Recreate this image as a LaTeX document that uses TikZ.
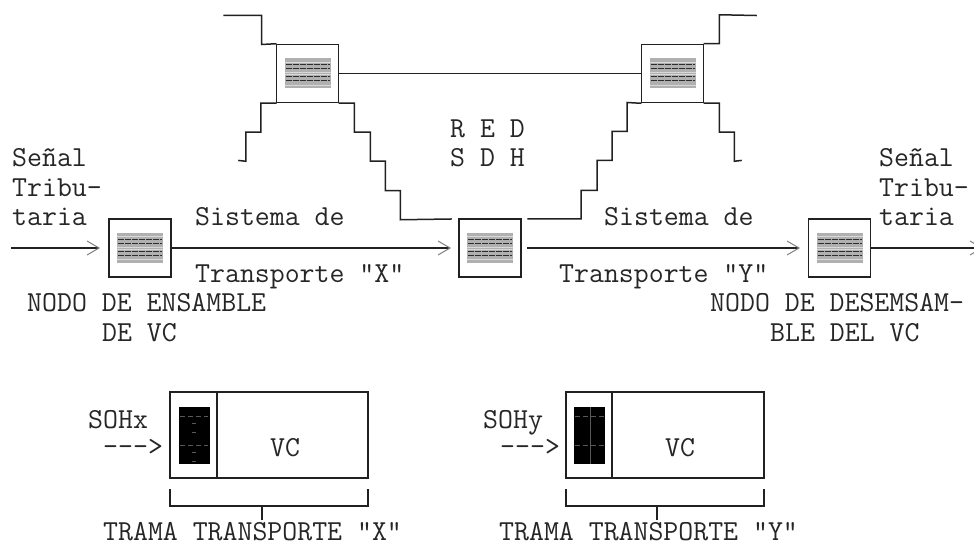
\documentclass[tikz,border=0pt]{standalone}
\usepackage{fontspec}
\usetikzlibrary{arrows.meta,calc}
\definecolor{ink}{gray}{0.13}
\definecolor{textink}{gray}{0.15}
\tikzset{
    line/.style    = {draw=ink, line width=1.5pt, line cap=rect},
    flow/.style    = {line, -{_[sep=14pt]Straight Barb[length=12pt, width=14pt, line width=1pt, color=gray]}},
    block/.style   = {draw=ink, line width=1.5pt, minimum width=62pt, minimum height=58pt, inner sep=0pt},
    tag/.style     = {anchor=base west, inner sep=0pt, text=textink,
                      font=\ttfamily\fontsize{29}{29}\selectfont},
    frame/.style   = {draw=ink, line width=1.5pt, minimum width=198pt, minimum height=86pt, inner sep=0pt},
    payload/.style = {fill=black, minimum width=31pt, minimum height=57pt, inner sep=0pt},
    seam/.style    = {gray!70!black, line width=0.7pt}
}
% one hatched square inside a block
\newcommand{\hatchcell}[1]{
    \fill[gray!62] ($(#1)+(-23,-15)$) rectangle ($(#1)+(23,15)$);
    \foreach \rowy in {-8.5,-4.5,3.5,7.5}
        \draw[gray!35!black, line width=1pt, dash pattern=on 6pt off 1pt]
            ($(#1)+(-22,\rowy)$) -- ($(#1)+(22,\rowy)$);
    \foreach \rowy in {-11.5,-1,1,11.5}
        \draw[gray!30, line width=0.8pt] ($(#1)+(-23,\rowy)$) -- ($(#1)+(23,\rowy)$);
}

\begin{document}
\begin{tikzpicture}[x=1pt, y=-1pt]
\useasboundingbox (0,0) rectangle (974,545);

% Tributary path through the SDH network.
\node[block] (ensamble) at (140,248) {};
\node[block] (paso) at (490,248) {};
\node[block] (desensamble) at (839.5,248) {};
\node[block] (cruceL) at (307.5,73.5) {};
\node[block] (cruceR) at (672.5,73.5) {};
\coordinate (entrada) at (12,248);
\coordinate (salida) at (983,248);
\coordinate (pasoOut) at (528,248);
\coordinate (pasoIn) at (451,248);
\coordinate (ensambleIn) at (100,248);
\coordinate (desensambleIn) at (800,248);
\draw[flow] (entrada) -- (ensambleIn);
\draw[flow] (ensamble.east) -- (pasoIn);
\draw[flow] (pasoOut) -- (desensambleIn);
\draw[flow] (desensamble.east) -- (salida);
\draw[line] (cruceL.east) -- (cruceR.west);

% Hatched squares.
\hatchcell{ensamble}
\hatchcell{paso}
\hatchcell{desensamble}
\hatchcell{cruceL}
\hatchcell{cruceR}

% Stepped edges of the network cloud.
\coordinate (topL) at (224,15.5);
\coordinate (topR) at (756,15.5);
\coordinate (lowL) at (239,160.5);
\coordinate (lowR) at (741,160.5);
\coordinate (pasoL) at (451,219);
\coordinate (pasoR) at (528,219);
\draw[line] (topL) -- ++(37.5,0) -- ++(0,29) -- (cruceL.north west);
\draw[line] (cruceL.south west) -- ++(-15,0) -- ++(0,29) -- ++(-15,0) -- ++(0,29) -- (lowL);
\draw[line] (cruceL.south east) -- ++(15,0) -- ++(0,29) -- ++(16,0) -- ++(0,29)
    -- ++(15,0) -- ++(0,29.5) -- ++(15,0) -- ++(0,29) -- (pasoL);
\draw[line] (pasoR) -- ++(53,0) -- ++(0,-28.5) -- ++(16,0) -- ++(0,-30) -- ++(15,0)
    -- ++(0,-29) -- ++(15,0) -- ++(0,-29) -- (cruceR.south west);
\draw[line] (cruceR.north east) -- ++(15,0) -- ++(0,-29) -- (topR);
\draw[line] (cruceR.south east) -- ++(15,0) -- ++(0,29) -- ++(15,0) -- ++(0,29) -- (lowR);

% Labels of the upper part.
\node[tag] (senalA) at (12,167) {Señal};
\node[tag] (tribuA) at (12,197) {Tribu-};
\node[tag] (tariaA) at (12,226) {taria};
\node[tag] (senalB) at (879,167) {Señal};
\node[tag] (tribuB) at (879,197) {Tribu-};
\node[tag] (tariaB) at (879,226) {taria};
\node[tag] (redA) at (450,138) {R E D};
\node[tag] (redB) at (450,167) {S D H};
\node[tag] (sistX) at (195,226) {Sistema de};
\node[tag] (transX) at (195,283) {Transporte "X"};
\node[tag] (sistY) at (604,226) {Sistema de};
\node[tag] (transY) at (559,283) {Transporte "Y"};
\node[tag] (nodoA) at (27,312) {NODO DE ENSAMBLE};
\node[tag] (nodoB) at (102,341) {DE VC};
\node[tag] (nodoC) at (710,312) {NODO DE DESEMSAM-};
\node[tag] (nodoD) at (770,341) {BLE DEL VC};

% Transport frame X.
\node[frame] (tramaX) at (269,435) {};
\coordinate (divXt) at (217,392);
\coordinate (divXb) at (217,478);
\draw[line] (divXt) -- (divXb);
\node[payload] (sohX) at (194,435.5) {};
\foreach \rowy in {416,445}
    \draw[seam, dash pattern=on 5pt off 3pt] (180,\rowy) -- (208,\rowy);
\foreach \rowy in {423,432,452,461}
    \draw[seam] (192,\rowy) -- (196,\rowy);
\coordinate (corXl) at (170,490);
\coordinate (corXr) at (368,490);
\coordinate (corXm) at (262,519);
\coordinate (corXc) at (262,506);
\draw[line] (corXl) -- ++(0,16) -- ++(198,0) -- (corXr);
\draw[line] (corXm) -- (corXc);
\node[tag] (labX) at (88,428) {SOHx};
\node[tag] (flechaX) at (103,455) {--->};
\node[tag] (vcX) at (270,456) {VC};
\node[tag] (tituloX) at (103,540) {TRAMA TRANSPORTE "X"};

% Transport frame Y.
\node[frame] (tramaY) at (665,435) {};
\coordinate (divYt) at (612,392);
\coordinate (divYb) at (612,478);
\draw[line] (divYt) -- (divYb);
\node[payload] (sohY) at (589.5,435.5) {};
\draw[seam, line width=1pt] (590,407) -- (590,464);
\foreach \rowy in {416,445}
    \draw[seam, dash pattern=on 5pt off 3pt] (575,\rowy) -- (604,\rowy);
\coordinate (corYl) at (566,490);
\coordinate (corYr) at (764,490);
\coordinate (corYm) at (657,519);
\coordinate (corYc) at (657,506);
\draw[line] (corYl) -- ++(0,16) -- ++(198,0) -- (corYr);
\draw[line] (corYm) -- (corYc);
\node[tag] (labY) at (483,428) {SOHy};
\node[tag] (flechaY) at (500,455) {--->};
\node[tag] (vcY) at (665,456) {VC};
\node[tag] (tituloY) at (499,540) {TRAMA TRANSPORTE "Y"};

\end{tikzpicture}
\end{document}
